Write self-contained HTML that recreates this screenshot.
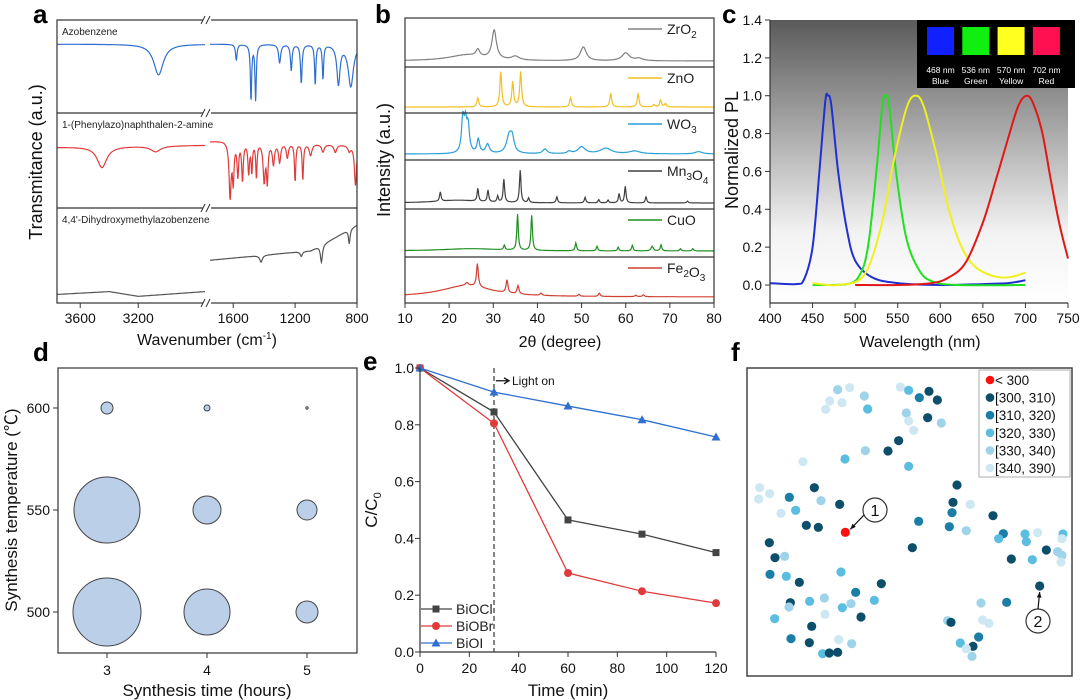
<!DOCTYPE html>
<html><head><meta charset="utf-8"><style>
html,body{margin:0;padding:0;background:#fff;}
svg{display:block;font-family:"Liberation Sans",Arial,sans-serif;}
</style></head><body>
<svg id="fig" width="1080" height="700" viewBox="0 0 1080 700">
<defs><linearGradient id="cg" x1="0" y1="0" x2="0" y2="1"><stop offset="0" stop-color="#5a5a5a"/><stop offset="0.75" stop-color="#f2f2f2"/><stop offset="1" stop-color="#ffffff"/></linearGradient></defs>
</svg>
<script>
// ---------- DATA ----------
// panel a (IR)
const irNames=["Azobenzene","1-(Phenylazo)naphthalen-2-amine","4,4'-Dihydroxymethylazobenzene"];
const irColors=["#2f6fd0","#e03b3b","#555555"];
const irBaseL=[[3760,0.74,2740,0.74],[3760,0.64,2740,0.66],[3760,0.09,3400,0.12,3200,0.07,2740,0.12]];
const irBaseR=[[1750,0.74,800,0.74],[1750,0.70,1660,0.71,800,0.66],[1750,0.45,1100,0.55,950,0.68,800,0.82]];
const irDipsL=[[[3060,0.33,40]],[[3450,0.22,40],[3080,0.06,40]],[]];
const irDipsR=[
[[1580,0.17,6],[1485,0.6,5],[1455,0.6,5],[1300,0.2,8],[1225,0.28,6],[1160,0.42,6],[1070,0.43,5],[1020,0.37,5],[920,0.42,12],[840,0.45,20]],
[[1620,0.58,8],[1600,0.4,6],[1570,0.35,6],[1540,0.4,6],[1500,0.32,6],[1480,0.3,5],[1450,0.36,5],[1400,0.4,8],[1380,0.4,6],[1340,0.22,8],[1300,0.2,8],[1250,0.15,8],[1200,0.4,5],[1150,0.38,5],[1100,0.12,10],[1020,0.08,10],[940,0.08,10],[850,0.06,10],[810,0.42,8]],
[[1420,0.07,10],[1160,0.05,8],[1030,0.18,8],[850,0.15,6]]];
const irTicksL=[3600,3200];
const irTicksR=[1600,1200,800];
// panel b (XRD)
const xrdNames=["ZrO2","ZnO","WO3","Mn3O4","CuO","Fe2O3"];
const xrdColors=["#808080","#f0c020","#2a9fd6","#404040","#1f8f1f","#d04030"];
const xrdPeaks=[
[[24,0.13,5],[26.5,0.15,0.5],[30.2,0.62,0.6],[35,0.08,1],[50.4,0.3,0.8],[60,0.17,1],[63,0.05,1]],
[[26.5,0.2,0.25],[31.7,0.76,0.25],[34.4,0.54,0.25],[36.2,0.76,0.25],[47.5,0.2,0.25],[56.6,0.3,0.25],[62.8,0.28,0.25],[66.4,0.05,0.25],[67.9,0.15,0.25],[69,0.07,0.25]],
[[23.1,0.72,0.35],[23.7,0.6,0.35],[24.3,0.55,0.35],[26.6,0.3,0.35],[28.7,0.2,0.5],[33.6,0.38,0.7],[34.3,0.28,0.5],[41.7,0.1,0.6],[47.2,0.05,0.5],[50,0.15,1],[55.5,0.12,1.5],[62,0.06,1.5],[76.5,0.05,1]],
[[22,0.06,6],[18,0.2,0.2],[26.5,0.28,0.2],[28.8,0.25,0.2],[31,0.13,0.2],[32.4,0.5,0.2],[36.1,0.7,0.2],[38,0.1,0.2],[44.4,0.13,0.2],[50.8,0.12,0.2],[53.9,0.07,0.2],[56,0.06,0.2],[58.5,0.2,0.2],[59.9,0.36,0.2],[64.6,0.13,0.2],[74,0.04,0.2]],
[[25,0.05,8],[32.5,0.1,0.2],[35.5,0.78,0.2],[38.7,0.76,0.2],[48.7,0.17,0.2],[53.5,0.1,0.2],[58.3,0.08,0.2],[61.5,0.12,0.2],[66,0.1,0.3],[68,0.13,0.2],[72.4,0.05,0.2],[75.2,0.05,0.2]],
[[24,0.25,7],[24,0.06,0.4],[26.4,0.5,0.25],[33.1,0.28,0.25],[35.6,0.18,0.25],[40.8,0.05,0.25],[49.4,0.04,0.25],[54,0.07,0.25],[62.3,0.03,0.25],[64,0.04,0.25]]];
const xrdTicks=[10,20,30,40,50,60,70,80];
// panel c (PL)
const plNames=["blue","green","yellow","red"];
const plColors=["#2030d0","#20e020","#f0f020","#e01818"];
const plX=[
[400,430,440,450,458,465,468,472,480,490,500,520,550,600,650,680,700],
[450,490,505,515,525,532,536,540,548,560,575,590,620,700],
[450,480,510,530,545,560,570,580,595,610,625,640,660,680,700],
[500,550,590,610,630,650,665,680,692,702,710,720,730,740,750]];
const plY=[
[0.01,0.005,0.03,0.2,0.6,0.97,1.0,0.95,0.6,0.3,0.13,0.04,0.01,0.0,0.005,0.01,0.025],
[0.0,0.005,0.05,0.2,0.6,0.95,1.0,0.95,0.6,0.25,0.08,0.02,0.0,0.0],
[0.01,0.0,0.05,0.3,0.65,0.93,1.0,0.95,0.7,0.4,0.2,0.1,0.05,0.04,0.065],
[0.0,0.0,0.01,0.04,0.12,0.33,0.55,0.78,0.95,1.0,0.95,0.8,0.55,0.32,0.14]];
const plXTicks=[400,450,500,550,600,650,700,750];
const plYTicks=[0.0,0.2,0.4,0.6,0.8,1.0,1.2,1.4];
const insetLabels=[["468 nm","Blue"],["536 nm","Green"],["570 nm","Yellow"],["702 nm","Red"]];
const insetColors=["#1020ff","#10f010","#ffff20","#ff1050"];
// panel d (bubbles)
const bubTime=[3,3,3,4,4,4,5,5,5];
const bubTemp=[500,550,600,500,550,600,500,550,600];
const bubSize=[34,33,6,23,14,3,11,10,1.2];
const dXTicks=[3,4,5];
const dYTicks=[500,550,600];
// panel e (kinetics)
const eTime=[0,30,60,90,120];
const eSeries=["BiOCl","BiOBr","BiOI"];
const eColors=["#444444","#e03b3b","#2f6fd0"];
const eVals=[[1,0.845,0.465,0.415,0.35],[1,0.805,0.278,0.214,0.172],[1,0.915,0.866,0.818,0.757]];
const eXTicks=[0,20,40,60,80,100,120];
const eYTicks=[0.0,0.2,0.4,0.6,0.8,1.0];
// panel f (scatter)
const fColors=["#ff1010","#0d4f6b","#1a7ea6","#5bbde0","#9ed3ea","#cde8f2"];
const fLabels=["< 300","[300, 310)","[310, 320)","[320, 330)","[330, 340)","[340, 390)"];
const fX=[32.2,35.8,29.8,33.5,28.6,40.2,41.2,51,53.5,56.7,59.6,62.1,52.8,59.2,53.5,55,63.3,50.5,47.3,40.5,34.4,53.5,21.8,8.8,8.5,11.8,15.2,17.7,19.6,25.2,27.2,32.8,22.8,26.4,34.5,56.5,54.6,11.7,13.4,16.3,11.9,16.8,20.7,33.2,45.3,37.6,18,17.6,23.8,28.2,33.6,36.2,43.2,28.4,39.2,13.3,24.4,18.2,23.7,32.5,36.4,27.7,29.7,32.2,68,66.8,72,66.5,65.7,70.8,78.8,81.9,80.5,88.4,92.2,99.8,88.8,99.5,94.8,98.2,99.5,99.2,84.3,90.6,92.8,82.9,75.2,65.2,66.2,75.7,77.6,69,74.5,72.8,70.8,72.5];
const fY=[17.8,17.2,21.2,21.7,23.7,19.7,23.6,17,18,20.2,18.3,20.9,24.8,26.2,27.2,30,27.8,33.1,36.2,36.1,38.6,40.8,39.4,47.2,50.6,49,54.9,50.1,54,47.2,51.1,52.2,58.5,59.1,60.6,57.3,65.2,63.7,68.2,67.8,73.2,73.8,75.6,72.5,76,78.6,81.7,83,81.3,80.3,83.2,82,81,85.2,86,86.5,88.8,92.5,93.7,92.8,94,97,96.8,96.6,46.4,51.6,52.2,54.7,58.9,60.1,55.6,61,62.5,61.1,60.7,61.1,63.4,62.5,65.9,66.4,67.5,69.5,68.6,68.8,76.7,81.6,81.8,87.1,87.6,86.9,87.9,93.8,92,94.8,95.5,97.8];
const fCls=[4,5,5,5,5,4,3,5,3,2,1,1,4,1,5,5,4,1,1,4,3,3,5,5,5,5,5,2,3,1,4,1,1,1,0,2,1,1,1,4,2,3,1,3,1,2,1,4,3,4,3,4,3,5,1,3,1,2,1,5,4,3,1,1,1,1,5,2,2,4,1,2,3,3,5,3,3,5,1,4,4,5,1,3,1,2,4,4,1,5,5,3,2,1,5,4];
// ---------- HELPERS ----------
const NS="http://www.w3.org/2000/svg";
const svg=document.getElementById("fig");
function mk(tag,a,p){const e=document.createElementNS(NS,tag);for(const k in a)e.setAttribute(k,a[k]);(p||svg).appendChild(e);return e;}
function tx(s,x,y,size,anchor,extra){const a=Object.assign({x:x,y:y,"font-size":size,"text-anchor":anchor||"middle",fill:"#111"},extra||{});const e=mk("text",a);e.textContent=s;return e;}
function lin(d0,d1,r0,r1){return v=>r0+(v-d0)/(d1-d0)*(r1-r0);}
function interp(arr,x){for(let i=0;i<arr.length-2;i+=2){const x0=arr[i],v0=arr[i+1],x1=arr[i+2],v1=arr[i+3];if((x-x0)*(x-x1)<=0)return v0+(x-x0)/(x1-x0)*(v1-v0);}return arr[1];}
function letter(s,x,y){const e=tx(s,x,y,26,"start",{"font-weight":"bold",fill:"#000"});}
function rot(s,x,y,size){const e=tx(s,x,y,size,"middle",{transform:"rotate(-90 "+x+" "+y+")"});return e;}
function smoothPath(pts){let d="M"+pts[0][0]+","+pts[0][1];for(let i=0;i<pts.length-1;i++){const p0=pts[i-1]||pts[i],p1=pts[i],p2=pts[i+1],p3=pts[i+2]||p2;const c1=[p1[0]+(p2[0]-p0[0])/6,p1[1]+(p2[1]-p0[1])/6],c2=[p2[0]-(p3[0]-p1[0])/6,p2[1]-(p3[1]-p1[1])/6];d+=" C"+c1[0].toFixed(1)+","+c1[1].toFixed(1)+" "+c2[0].toFixed(1)+","+c2[1].toFixed(1)+" "+p2[0].toFixed(1)+","+p2[1].toFixed(1);}return d;}

// ---------- PANEL A ----------
letter("a",33,23);
const aL=lin(3760,2740,57,205), aR=lin(1750,800,210,357);
const aTops=[20,113,208], aH=[93,95,95];
for(let i=0;i<3;i++){
  const bot=aTops[i]+aH[i];
  const segs=[[3760,2740,irBaseL[i],irDipsL[i],aL],[1750,800,irBaseR[i],irDipsR[i],aR]];
  segs.forEach((s,j)=>{let d="";const n=400;for(let k=0;k<=n;k++){const w=s[0]+(s[1]-s[0])*k/n;let v=interp(s[2],w);s[3].forEach(p=>{v-=p[1]/(1+((w-p[0])/p[2])**2);});const x=s[4](w),y=bot-v*aH[i];d+=(k?"L":"M")+x.toFixed(1)+","+y.toFixed(1);}
    const p=mk("path",{d:d,fill:"none",stroke:irColors[i],"stroke-width":1.2});
    
    });
  const t=tx(irNames[i],62,aTops[i]+15,10,"start",{fill:"#222"});
  
  
}
mk("rect",{x:57,y:20,width:300,height:283,fill:"none",stroke:"#333","stroke-width":1.2});
[113,208].forEach(y=>{const l=mk("line",{x1:57,x2:357,y1:y,y2:y,stroke:"#333","stroke-width":1.2});});
[20,113,208,303].forEach(y=>{const r=mk("rect",{x:203,y:y-4,width:8,height:8,fill:"#fff"});
  const b=mk("path",{d:`M201,${y+4}L205,${y-4}M206,${y+4}L210,${y-4}`,stroke:"#333","stroke-width":1});});
irTicksL.forEach(v=>{const x=aL(v);const l=mk("line",{x1:x,x2:x,y1:303,y2:308,stroke:"#333"});const t=tx(v,x,323,14);});
irTicksR.forEach(v=>{const x=aR(v);const l=mk("line",{x1:x,x2:x,y1:303,y2:308,stroke:"#333"});const t=tx(v,x,323,14);});
{const t=tx("",207,345,16);t.innerHTML='Wavenumber (cm<tspan dy="-6" font-size="10">-1</tspan><tspan dy="6">)</tspan>';}
{const t=rot("Transmitance (a.u.)",42,162,18);}

// ---------- PANEL B ----------
letter("b",375,23);
const bx=lin(10,80,405,714);
const bTops=[18,67,113,160,209,257,303];
for(let i=0;i<6;i++){
  const top=bTops[i],bot=bTops[i+1],base=bot-6;let d="";
  for(let k=0;k<=700;k++){const t=10+70*k/700;let v=0;xrdPeaks[i].forEach(p=>{v+=p[1]/(1+((t-p[0])/p[2])**2);});const y=base-v*46;d+=(k?"L":"M")+bx(t).toFixed(1)+","+y.toFixed(1);}
  const p=mk("path",{d:d,fill:"none",stroke:xrdColors[i],"stroke-width":1.2});
  
  
  if(i>0){const l=mk("line",{x1:405,x2:714,y1:top,y2:top,stroke:"#333","stroke-width":1.2});}
  const ll=mk("line",{x1:628,x2:662,y1:top+11,y2:top+11,stroke:xrdColors[i],"stroke-width":1.5});
  const t=tx("",667,top+16,14,"start",{fill:"#222"});t.innerHTML=xrdNames[i].replace(/(\d)/g,'<tspan dy="4" font-size="10">$1</tspan><tspan dy="-4"></tspan>');
  
}
mk("rect",{x:405,y:18,width:309,height:285,fill:"none",stroke:"#333","stroke-width":1.2});
xrdTicks.forEach(v=>{const x=bx(v);const l=mk("line",{x1:x,x2:x,y1:303,y2:308,stroke:"#333"});const t=tx(v,x,323,14);});
{const t=tx("2θ (degree)",560,347,16);}
{const t=rot("Intensity (a.u.)",390,160,18);}

// ---------- PANEL C ----------
letter("c",722,23);
const cx=lin(400,750,770,1068), cy=lin(0,1.4,285,20);
mk("rect",{x:770,y:20,width:298,height:283,fill:"url(#cg)"});
for(let i=0;i<4;i++){const pts=plX[i].map((x,k)=>[cx(x),cy(plY[i][k])]);const p=mk("path",{d:smoothPath(pts),fill:"none",stroke:plColors[i],"stroke-width":2});}
{const r=mk("rect",{x:917,y:20,width:158,height:68,fill:"#000"});}
insetColors.forEach((c,i)=>{const x=927+i*35.3;const r=mk("rect",{x:x,y:27,width:27,height:28,fill:c});
  const t1=tx(insetLabels[i][0],x+13.5,73,8.5,"middle",{fill:"#fff"});
  const t2=tx(insetLabels[i][1],x+13.5,84,8.5,"middle",{fill:"#fff"});});
mk("path",{d:"M770,20L770,303L1068,303",fill:"none",stroke:"#333","stroke-width":1.2});
plXTicks.forEach(v=>{const x=cx(v);const l=mk("line",{x1:x,x2:x,y1:303,y2:308,stroke:"#333"});const t=tx(v,x,323,14);});
plYTicks.forEach(v=>{const y=cy(v);const l=mk("line",{x1:765,x2:770,y1:y,y2:y,stroke:"#333"});const t=tx(v.toFixed(1),762,y+5,14,"end");});
{const t=tx("Wavelength (nm)",920,347,16);}
{const t=rot("Normalized PL",738,150,18);}

// ---------- PANEL D ----------
letter("d",33,361);
const dx=lin(3,5,107,307), dy=lin(500,600,612,408);
mk("rect",{x:58,y:368,width:299,height:285,fill:"none",stroke:"#333","stroke-width":1.2});
bubTime.forEach((t,i)=>{const c=mk("circle",{cx:dx(t),cy:dy(bubTemp[i]),r:bubSize[i],fill:"#bccfe8",stroke:"#444","stroke-width":1});});
dXTicks.forEach(v=>{const x=dx(v);const l=mk("line",{x1:x,x2:x,y1:653,y2:658,stroke:"#333"});const t=tx(v,x,675,14);});
dYTicks.forEach(v=>{const y=dy(v);const l=mk("line",{x1:53,x2:58,y1:y,y2:y,stroke:"#333"});const t=tx(v,50,y+5,14,"end");});
{const t=tx("Synthesis time (hours)",207,696,17);}
{const t=rot("Synthesis temperature (℃)",17,510,17);t.setAttribute("font-family",'"Liberation Sans","Noto Sans CJK SC",sans-serif');}

// ---------- PANEL E ----------
letter("e",363,370);
const ex=lin(0,120,420,716), ey=lin(0,1,652,368);
{const l=mk("line",{x1:ex(30),x2:ex(30),y1:368,y2:652,stroke:"#333","stroke-width":1.2,"stroke-dasharray":"5,3"});}
{const a=mk("path",{d:`M${ex(30)+2},${ey(0.955)}L${ex(30)+14},${ey(0.955)}M${ex(30)+10},${ey(0.955)-3}L${ex(30)+15},${ey(0.955)}L${ex(30)+10},${ey(0.955)+3}`,stroke:"#111",fill:"none","stroke-width":1.3});
 const t=tx("Light on",ex(30)+18,ey(0.955)+4,12,"start");}
function marker(i,x,y){let m;if(i===0)m=mk("rect",{x:x-3.5,y:y-3.5,width:7,height:7,fill:eColors[i]});else if(i===1)m=mk("circle",{cx:x,cy:y,r:4,fill:eColors[i]});else m=mk("path",{d:`M${x},${y-4.5}L${x+4.5},${y+3.5}L${x-4.5},${y+3.5}Z`,fill:eColors[i]});return m;}
eVals.forEach((vals,i)=>{const d=vals.map((v,k)=>(k?"L":"M")+ex(eTime[k])+","+ey(v)).join("");const p=mk("path",{d:d,fill:"none",stroke:eColors[i],"stroke-width":1.3});
  vals.forEach((v,k)=>{const m=marker(i,ex(eTime[k]),ey(v));});
  const ly=609+i*17;const l=mk("line",{x1:421,x2:452,y1:ly,y2:ly,stroke:eColors[i],"stroke-width":1.3});
  const lm=marker(i,436,ly);
  const t=tx(eSeries[i],456,ly+5,14,"start",{fill:"#222"});});
mk("path",{d:"M420,368L420,652L716,652",fill:"none",stroke:"#333","stroke-width":1.2});
eXTicks.forEach(v=>{const x=ex(v);const l=mk("line",{x1:x,x2:x,y1:652,y2:657,stroke:"#333"});const t=tx(v,x,673,14);});
eYTicks.forEach(v=>{const y=ey(v);const l=mk("line",{x1:415,x2:420,y1:y,y2:y,stroke:"#333"});const t=tx(v.toFixed(1),414,y+5,14,"end");});
{const t=tx("Time (min)",568,696,17);}
{const t=tx("",377,510,17,"middle",{transform:"rotate(-90 377 510)"});t.innerHTML='C/C<tspan dy="4" font-size="11">0</tspan>';}

// ---------- PANEL F ----------
letter("f",731,361);
const fx=lin(5,102.5,747,1072), fy=lin(11.3,103.7,368,676);
mk("rect",{x:747,y:368,width:325,height:308,fill:"none",stroke:"#444","stroke-width":1.5});
fX.forEach((x,i)=>{const c=mk("circle",{cx:fx(x),cy:fy(fY[i]),r:4.6,fill:fColors[fCls[i]]});});
{const r=mk("rect",{x:979,y:370,width:91,height:107,fill:"#fff",stroke:"#999","stroke-width":0.8});}
fLabels.forEach((s,i)=>{const y=380+i*17.6;const c=mk("circle",{cx:990,cy:y,r:4.3,fill:fColors[i]});const t=tx(s,995,y+5,13.5,"start");});
[[875,510,"1",fx(fX[34]),fy(fY[34])-0,1],[1038,621,"2",fx(fX[84]),fy(fY[84]),2]].forEach(a=>{
  const c=mk("circle",{cx:a[0],cy:a[1],r:12,fill:"#fff",stroke:"#333","stroke-width":1.2});
  const t=tx(a[2],a[0],a[1]+6,16);
  let x1,y1,x2,y2;if(a[5]===1){x1=a[0]-11;y1=a[1]+5;x2=a[3]+5;y2=a[4]-3;}else{x1=a[0];y1=a[1]-12;x2=a[3];y2=a[4]+6;}
  const ang=Math.atan2(y2-y1,x2-x1);const h=`M${x2},${y2}L${(x2-6*Math.cos(ang-0.4)).toFixed(1)},${(y2-6*Math.sin(ang-0.4)).toFixed(1)}L${(x2-6*Math.cos(ang+0.4)).toFixed(1)},${(y2-6*Math.sin(ang+0.4)).toFixed(1)}Z`;
  const l=mk("path",{d:`M${x1},${y1}L${x2},${y2}`,stroke:"#111","stroke-width":1.2});
  const hh=mk("path",{d:h,fill:"#111"});});
</script>
</body></html>
